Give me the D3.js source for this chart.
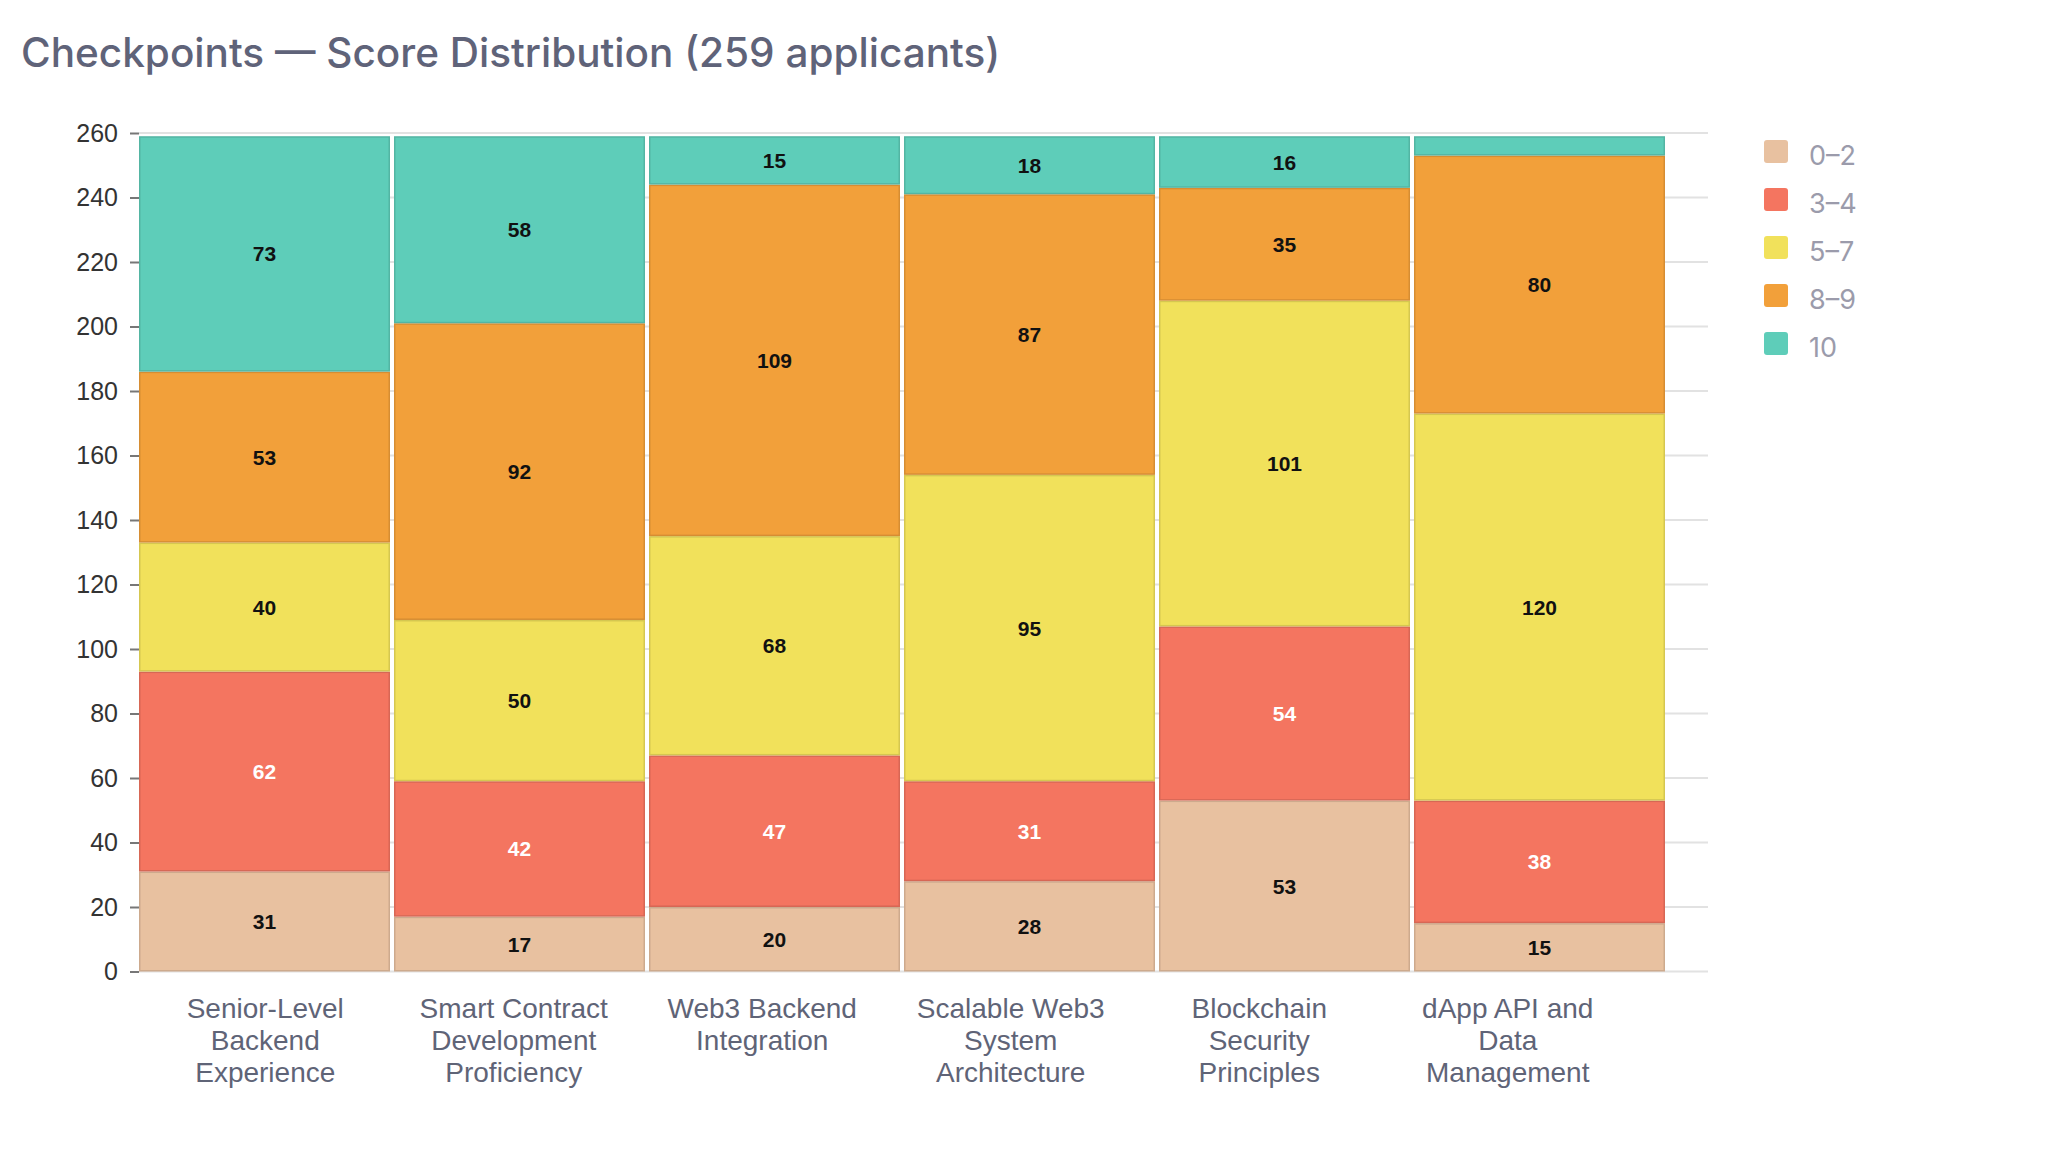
<!DOCTYPE html>
<html>
<head>
<meta charset="utf-8">
<script src="https://cdn.jsdelivr.net/npm/d3@7"></script>
<style>
  html, body { margin: 0; padding: 0; background: #fff; }
  svg { display: block; }
</style>
</head>
<body>
<svg id="chart"></svg>
<script>
// chart data
const categories = [
  "Senior-Level Backend Experience",
  "Smart Contract Development Proficiency",
  "Web3 Backend Integration",
  "Scalable Web3 System Architecture",
  "Blockchain Security Principles",
  "dApp API and Data Management"
];
const tickLines = [
  ["Senior-Level", "Backend", "Experience"],
  ["Smart Contract", "Development", "Proficiency"],
  ["Web3 Backend", "Integration"],
  ["Scalable Web3", "System", "Architecture"],
  ["Blockchain", "Security", "Principles"],
  ["dApp API and", "Data", "Management"]
];
const seriesNames = ["0–2", "3–4", "5–7", "8–9", "10"];
const score0to2 = [31, 17, 20, 28, 53, 15];
const score3to4 = [62, 42, 47, 31, 54, 38];
const score5to7 = [40, 50, 68, 95, 101, 120];
const score8to9 = [53, 92, 109, 87, 35, 80];
const score10   = [73, 58, 15, 18, 16, 6];
const yTicks = d3.range(0, 261, 20);

const colors = ["#e8c1a0", "#f47560", "#f1e15b", "#f2a03a", "#5ecdb9"];
const labelColors = ["#111", "#fff", "#111", "#111", "#111"];

const width = 2064, height = 1172;
const svg = d3.select("#chart").attr("width", width).attr("height", height);

const rows = categories.map((c, i) => ({
  category: c,
  "0–2": score0to2[i],
  "3–4": score3to4[i],
  "5–7": score5to7[i],
  "8–9": score8to9[i],
  "10": score10[i]
}));
const stacked = d3.stack().keys(seriesNames)(rows);

const x = d3.scaleBand()
  .domain(categories)
  .range([139, 1665])
  .paddingInner(0.0157)
  .paddingOuter(0);

// the category labels sit on a slightly tighter band than the bars
const xLabel = d3.scaleBand()
  .domain(categories)
  .range([141, 1632]);

const y = d3.scaleLinear()
  .domain([0, 260])
  .range([971.5, 133]);

// title
svg.append("text")
  .attr("x", 21)
  .attr("y", 67)
  .style("font-family", "Inter, 'Noto Sans', sans-serif")
  .style("font-size", "40.5px")
  .style("font-weight", 500)
  .attr("fill", "#5f6379")
  .text("Checkpoints — Score Distribution (259 applicants)");

// grid
svg.append("g")
  .selectAll("line")
  .data(yTicks)
  .enter().append("line")
  .attr("x1", 139)
  .attr("x2", 1708)
  .attr("y1", d => y(d))
  .attr("y2", d => y(d))
  .attr("stroke", "#e2e2e2")
  .attr("stroke-width", 2);

// y axis
const yAxis = svg.append("g")
  .attr("transform", "translate(139,0)")
  .call(d3.axisLeft(y).tickValues(yTicks).tickSize(9).tickPadding(12));
yAxis.select(".domain").remove();
yAxis.selectAll(".tick line").attr("stroke", "#777").attr("stroke-width", 2);
yAxis.selectAll(".tick text")
  .attr("fill", "#333")
  .style("font-family", "'Liberation Sans', Arial, sans-serif")
  .style("font-size", "25px");

// bars
const layer = svg.append("g")
  .selectAll("g")
  .data(stacked)
  .enter().append("g")
  .attr("fill", (d, i) => colors[i])
  .attr("stroke", (d, i) => d3.color(colors[i]).darker(0.35))
  .attr("stroke-width", 1.5);

layer.selectAll("rect")
  .data(d => d)
  .enter().append("rect")
  .attr("x", d => x(d.data.category) + 0.75)
  .attr("y", d => y(d[1]) + 0.75)
  .attr("width", x.bandwidth() - 1.5)
  .attr("height", d => Math.max(0, y(d[0]) - y(d[1]) - 1.5));

// value labels
layer.each(function (s, si) {
  d3.select(this).selectAll("text")
    .data(s.filter(d => y(d[0]) - y(d[1]) >= 30))
    .enter().append("text")
    .attr("x", d => x(d.data.category) + x.bandwidth() / 2)
    .attr("y", d => (y(d[0]) + y(d[1])) / 2)
    .attr("text-anchor", "middle")
    .attr("dominant-baseline", "central")
    .attr("stroke", "none")
    .attr("fill", labelColors[si])
    .style("font-family", "'Liberation Sans', Arial, sans-serif")
    .style("font-size", "21px")
    .style("font-weight", "bold")
    .text(d => d[1] - d[0]);
});

// x labels
const xl = svg.append("g")
  .selectAll("text")
  .data(categories)
  .enter().append("text")
  .attr("x", d => xLabel(d) + xLabel.bandwidth() / 2)
  .attr("y", 1018)
  .attr("text-anchor", "middle")
  .attr("fill", "#5f6477")
  .style("font-family", "'Liberation Sans', Arial, sans-serif")
  .style("font-size", "28px");
xl.selectAll("tspan")
  .data((d, i) => tickLines[i])
  .enter().append("tspan")
  .attr("x", function () { return d3.select(this.parentNode).attr("x"); })
  .attr("dy", (d, i) => i === 0 ? 0 : 32)
  .text(d => d);

// legend
const legend = svg.append("g")
  .selectAll("g")
  .data(seriesNames)
  .enter().append("g")
  .attr("transform", (d, i) => `translate(1764,${140 + i * 48})`);
legend.append("rect")
  .attr("width", 24)
  .attr("height", 23)
  .attr("rx", 3)
  .attr("fill", (d, i) => colors[i]);
legend.append("text")
  .attr("x", 45)
  .attr("y", 25)
  .attr("fill", "#9b9bab")
  .style("font-family", "Inter, 'Noto Sans', sans-serif")
  .style("font-size", "27px")
  .text(d => d);
</script>
</body>
</html>
